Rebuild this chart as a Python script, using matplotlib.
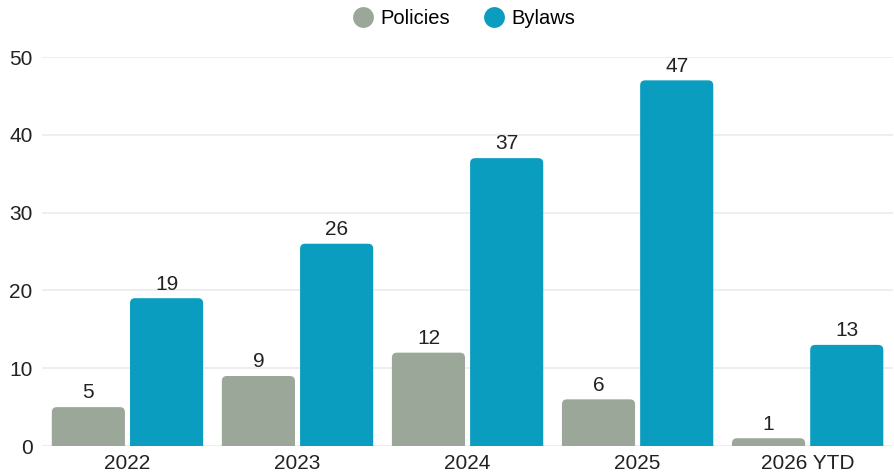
import matplotlib.pyplot as plt
import numpy as np
from matplotlib.patches import FancyBboxPatch
from matplotlib.lines import Line2D

YEARS = ["2022", "2023", "2024", "2025", "2026 YTD"]
POLICIES = [5, 9, 12, 6, 1]
BYLAWS = [19, 26, 37, 47, 13]
Y_TICKS = [0, 10, 20, 30, 40, 50]

POLICY_COLOR = "#9ba798"
BYLAW_COLOR = "#0a9dbf"

plt.rcParams["font.family"] = ["Liberation Sans", "DejaVu Sans"]

fig = plt.figure(figsize=(8.94, 4.75), dpi=100)
ax = fig.add_axes([0.0475, 0.061, 0.951, 0.819])

x = np.arange(len(YEARS))
w = 0.43
gap = 0.03
ax.set_xlim(-0.5, len(YEARS) - 0.5)
ax.set_ylim(0, 50)

# px per data unit, for rounding corners evenly
px_x = 0.951 * 894 / len(YEARS)
px_y = 0.819 * 475 / 50
aspect = px_x / px_y
r = 5 / px_x

for vals, color, off in [(POLICIES, POLICY_COLOR, -(w + gap) / 2),
                         (BYLAWS, BYLAW_COLOR, (w + gap) / 2)]:
    for xi, v in zip(x, vals):
        left = xi + off - w / 2
        patch = FancyBboxPatch(
            (left, -3), w, v + 3,
            boxstyle=f"round,pad=0,rounding_size={r}",
            mutation_aspect=aspect,
            facecolor=color, edgecolor="none", zorder=3,
        )
        ax.add_patch(patch)
        ax.text(xi + off, v + 0.6, str(v), ha="center", va="bottom",
                fontsize=15, color="#222222", zorder=4)

ax.set_yticks(Y_TICKS)
ax.set_yticklabels([str(t) for t in Y_TICKS], fontsize=15, color="#222222")
ax.set_xticks(x)
ax.set_xticklabels(YEARS, fontsize=15, color="#222222")
ax.tick_params(axis="both", length=0)
ax.tick_params(axis="x", pad=6)
ax.tick_params(axis="y", pad=7)
ax.grid(axis="y", color="#ebebeb", linewidth=1.2, zorder=0)
ax.set_axisbelow(True)
for s in ax.spines.values():
    s.set_visible(False)

handles = [
    Line2D([], [], marker="o", linestyle="none", markersize=15,
           markerfacecolor=POLICY_COLOR, markeredgecolor="none", label="Policies"),
    Line2D([], [], marker="o", linestyle="none", markersize=15,
           markerfacecolor=BYLAW_COLOR, markeredgecolor="none", label="Bylaws"),
]
fig.legend(handles=handles, loc="center", bbox_to_anchor=(0.519, 0.962), ncol=2,
           frameon=False, fontsize=14.5, handlelength=1.0, handletextpad=0.35,
           columnspacing=1.7)

fig.savefig("out.png", dpi=100)
